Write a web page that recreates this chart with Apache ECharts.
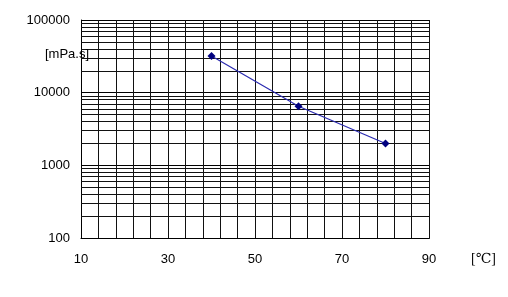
<!DOCTYPE html>
<html><head><meta charset="utf-8">
<script src="https://cdn.jsdelivr.net/npm/echarts@6/dist/echarts.min.js"></script>
<style>html,body{margin:0;padding:0;background:#fff}#c{width:508px;height:297px}</style>
</head><body><div id="c"></div>
<script>
const temperatures = [40, 60, 80];
const viscosity = [32000, 6500, 2000];
const xTickLabels = [10, 30, 50, 70, 90];
const yTickLabels = [100, 1000, 10000, 100000];
const yUnit = '[mPa.s]';
const xUnit = '[\u2103]';

// minor log grid lines (2..9 x decade)
const minorLines = [];
for (let d = 100; d < 100000; d *= 10) {
  for (let m = 2; m <= 9; m++) minorLines.push({ yAxis: m * d });
}

const chart = echarts.init(document.getElementById('c'), null, { renderer: 'canvas' });
chart.setOption({
  animation: false,
  backgroundColor: '#fff',
  grid: { left: 81, top: 20, width: 348, height: 218, containLabel: false },
  xAxis: {
    type: 'value', min: 10, max: 90, interval: 4,
    axisLine: { show: true, lineStyle: { color: '#000', width: 1 } },
    axisTick: { show: false },
    splitLine: { show: true, lineStyle: { color: '#111', width: 1 } },
    axisLabel: {
      margin: 15, color: '#000', fontSize: 13, fontFamily: 'Liberation Sans, Arial, sans-serif',
      formatter: v => (xTickLabels.indexOf(Math.round(v)) >= 0 ? String(Math.round(v)) : '')
    }
  },
  yAxis: {
    type: 'log', logBase: 10, min: 100, max: 100000,
    axisLine: { show: true, lineStyle: { color: '#000', width: 1 } },
    axisTick: { show: false },
    splitLine: { show: true, lineStyle: { color: '#000', width: 1 } },
    axisLabel: {
      margin: 11, color: '#000', fontSize: 13, fontFamily: 'Liberation Sans, Arial, sans-serif',
      formatter: v => (yTickLabels.indexOf(Math.round(v)) >= 0 ? String(Math.round(v)) : '')
    }
  },
  graphic: [
    { type: 'rect', left: 429, top: 20, shape: { width: 0, height: 218 }, style: { stroke: '#000', lineWidth: 1 } },
    { type: 'text', left: 45, top: 48, z: 100, style: { text: yUnit, fill: '#000', font: '13px "Liberation Sans", Arial, sans-serif' } },
    { type: 'text', left: 471, top: 252, style: { text: xUnit, fill: '#000', font: '14px "Liberation Serif", "DejaVu Serif", serif' } }
  ],
  series: [
    {
      type: 'line',
      data: temperatures.map((t, i) => [t, viscosity[i]]),
      symbol: 'diamond', symbolSize: 8,
      itemStyle: { color: '#000080' },
      lineStyle: { color: '#2b2bb0', width: 1.2 },
      z: 10,
      markLine: {
        silent: true, symbol: 'none', animation: false,
        label: { show: false },
        lineStyle: { color: '#111', width: 1, type: 'solid' },
        data: minorLines
      }
    }
  ]
});
</script></body></html>
